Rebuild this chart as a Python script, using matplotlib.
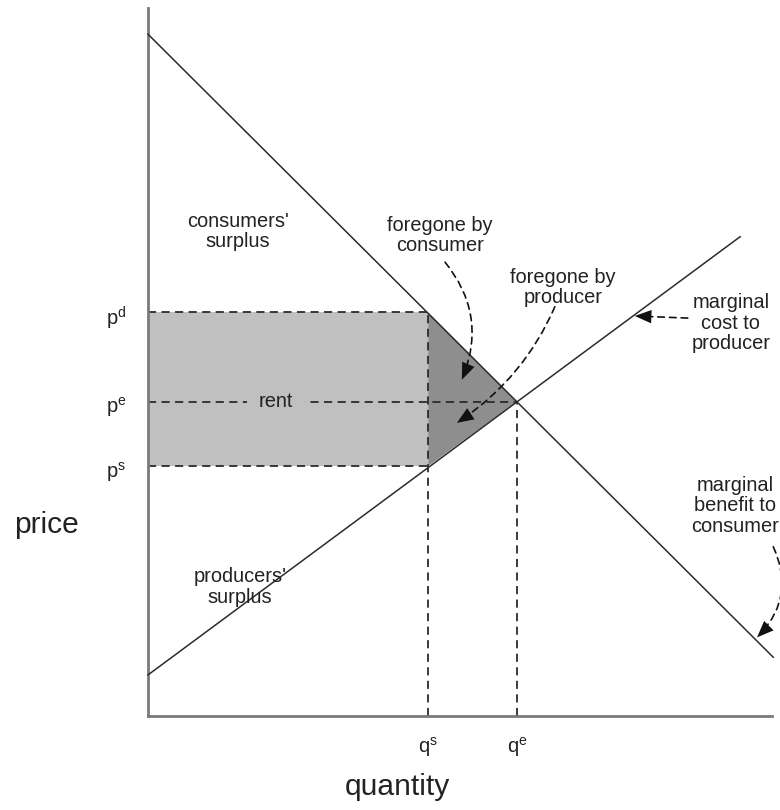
import matplotlib.pyplot as plt
from matplotlib.patches import Rectangle, Polygon

plt.rcParams['font.family'] = ['Liberation Sans', 'DejaVu Sans']

# demand (marginal benefit) and supply (marginal cost) lines, end points
demand_q = [0.0, 10.02]
demand_p = [9.63, 0.83]
supply_q = [0.0, 9.49]
supply_p = [0.58, 6.77]

# key levels
q_s = 4.49
q_e = 5.91
p_d = 5.70
p_e = 4.44
p_s = 3.53

LIGHT = '#c0c0c0'
DARK = '#8e8e8e'
INK = '#2b2b2b'
FS = 14.4

fig = plt.figure(figsize=(7.8, 8.1), dpi=100)
ax = fig.add_axes([148 / 780, 94 / 810, 624 / 780, 708 / 810])
ax.set_xlim(0, 10)
ax.set_ylim(0, 10)
for s in ['top', 'right']:
    ax.spines[s].set_visible(False)
for s in ['left', 'bottom']:
    ax.spines[s].set_color('#7a7a7a')
    ax.spines[s].set_linewidth(2)
ax.set_xticks([])
ax.set_yticks([])

# shaded areas
ax.add_patch(Rectangle((0, p_s), q_s, p_d - p_s, facecolor=LIGHT, edgecolor='none', zorder=1))
ax.add_patch(Polygon([(q_s, p_d), (q_e, p_e), (q_s, p_s)], closed=True,
                     facecolor=DARK, edgecolor='none', zorder=1))

# curves
ax.plot(demand_q, demand_p, color=INK, lw=1.1, zorder=3, clip_on=False)
ax.plot(supply_q, supply_p, color=INK, lw=1.1, zorder=3, clip_on=False)

# dashed guide lines
dash = dict(color=INK, lw=1.3, ls=(0, (4.5, 3)), zorder=2)
ax.plot([0, q_s], [p_d, p_d], **dash)
ax.plot([0, q_s], [p_s, p_s], **dash)
ax.plot([0, q_e], [p_e, p_e], **dash)
ax.plot([q_s, q_s], [0, p_d], **dash)
ax.plot([q_e, q_e], [0, p_e], **dash)

ax.text(2.05, p_e, 'rent', fontsize=FS, ha='center', va='center', color='#222222', zorder=4,
        bbox=dict(boxstyle='square,pad=0.6', facecolor=LIGHT, edgecolor='none'))

# axis value labels
for lab, lev in [('p$^{\\mathregular{d}}$', p_d), ('p$^{\\mathregular{e}}$', p_e), ('p$^{\\mathregular{s}}$', p_s)]:
    ax.text(-0.51, lev - 0.08, lab, fontsize=FS, ha='center', va='center', color='#222222', clip_on=False)
for lab, q in [('q$^{\\mathregular{s}}$', q_s), ('q$^{\\mathregular{e}}$', q_e)]:
    ax.text(q, -0.44, lab, fontsize=FS, ha='center', va='center', color='#222222', clip_on=False)

ax.text(-1.63, 2.58, 'price', fontsize=21.6, ha='center', va='baseline', color='#222222')
ax.text(3.99, -1.12, 'quantity', fontsize=21.6, ha='center', va='baseline', color='#222222')

# annotations
notes = [
    ("consumers'\nsurplus", 1.44, 6.84),
    ("producers'\nsurplus", 1.47, 1.82),
    ('foregone by\nconsumer', 4.68, 6.79),
    ('foregone by\nproducer', 6.65, 6.05),
    ('marginal\ncost to\nproducer', 9.34, 5.55),
    ('marginal\nbenefit to\nconsumer', 9.41, 2.97),
]
for txt, x, y in notes:
    ax.text(x, y, txt, fontsize=FS, ha='center', va='center', linespacing=1.1,
            color='#222222', clip_on=False)

arrows = [
    ((4.76, 6.41), (5.03, 4.75), -0.3),
    ((6.52, 5.78), (4.95, 4.14), -0.15),
    ((8.65, 5.62), (7.80, 5.65), 0.0),
    ((10.02, 2.39), (9.76, 1.11), -0.35),
]
for start, end, rad in arrows:
    conn = 'arc3,rad=%s' % rad
    # dashed shaft
    ax.annotate('', xy=end, xytext=start, annotation_clip=False,
                arrowprops=dict(arrowstyle='-', color='#111111', lw=1.2,
                                ls=(0, (4, 3)), shrinkA=0, shrinkB=4,
                                connectionstyle=conn))
    # solid filled head
    ax.annotate('', xy=end, xytext=start, annotation_clip=False,
                arrowprops=dict(arrowstyle='-|>,head_length=0.6,head_width=0.24',
                                mutation_scale=20, facecolor='#111111',
                                edgecolor='none', lw=0, shrinkA=0, shrinkB=0,
                                connectionstyle=conn))

fig.savefig('out.png', dpi=100)
